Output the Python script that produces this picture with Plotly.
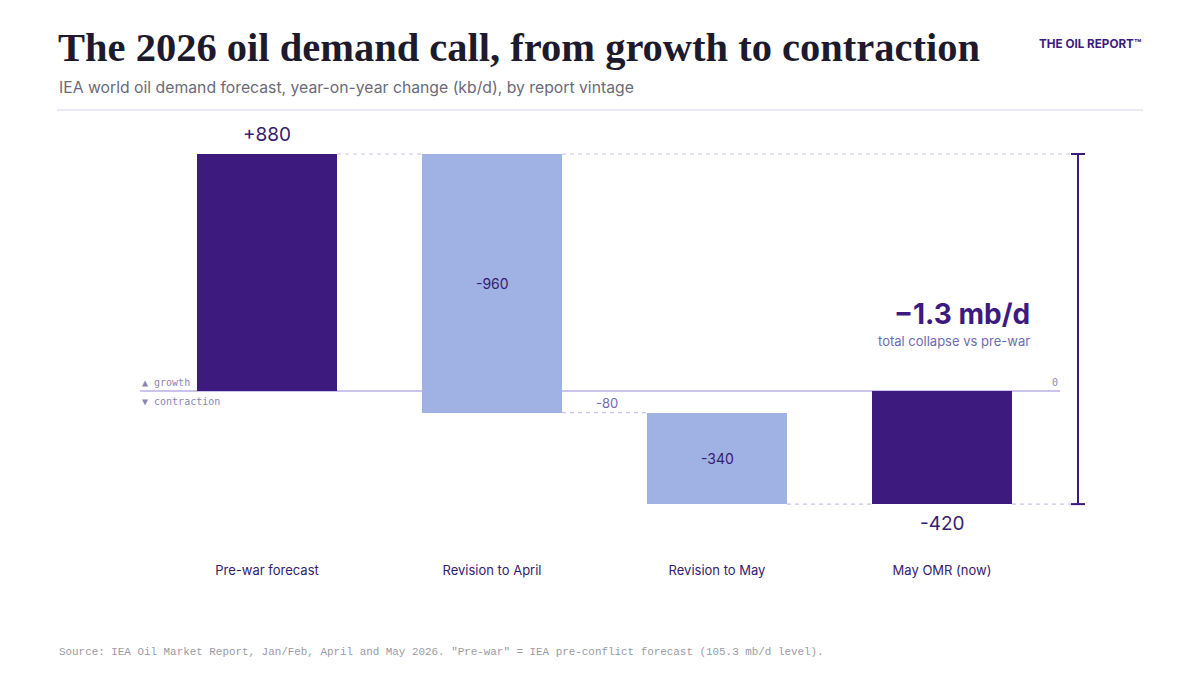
import plotly.graph_objects as go

# data
categories = ["Pre-war forecast", "Revision to April", "Revision to May", "May OMR (now)"]
changes = [880, -960, -340, -420]
kinds = ["total", "relative", "relative", "total"]

DARK = "#3d1a7e"
LIGHT = "#a0b1e3"
LINE = "#cbc4ea"
TXT = "#35206e"
SOFT = "#6c6cb2"

W, H = 1200, 675
L, R, T, B = 140, 100, 120, 130
PW, PH = W - L - R, H - T - B

# running levels for the waterfall
bases, tops = [], []
level = 0
for v, k in zip(changes, kinds):
    if k == "total":
        bases.append(0)
        level = v
    else:
        bases.append(level)
        level = level + v
    tops.append(level)

start_level = changes[0]
end_level = tops[-1]

# scale: 225 px per category, zero at y=391, 880 kb/d = 237 px
x_rng = [-127 / 225, (W - R - 267) / 225]
k = 237 / 880
y_rng = [-(H - B - 391) / k, (391 - T) / k]
bw = 0.622


def px_x(p):
    return (p - L) / PW


def px_y(p):
    return (H - B - p) / PH


def dx(p):
    return (p - 267) / 225


colors = [DARK if kd == "total" else LIGHT for kd in kinds]

fig = go.Figure(go.Bar(
    x=list(range(len(categories))), y=changes, base=bases,
    marker_color=colors, marker_line_width=0, width=bw,
    hoverinfo="none",
))

dash = "4px,4px"
shapes = []
# zero line
shapes.append(dict(type="line", xref="x", yref="y", x0=x_rng[0], x1=dx(1060), y0=0, y1=0,
                   line=dict(color=LINE, width=2), layer="below"))
# connectors between bars
for i in range(len(categories) - 1):
    shapes.append(dict(type="line", xref="x", yref="y", x0=i + bw / 2, x1=i + 1 - bw / 2,
                       y0=tops[i], y1=tops[i], line=dict(color=LINE, width=1.2, dash=dash),
                       layer="below"))
# extensions to bracket
bx = dx(1078)
for lv, xs in [(start_level, 1 + bw / 2), (end_level, 3 + bw / 2)]:
    shapes.append(dict(type="line", xref="x", yref="y", x0=xs, x1=bx, y0=lv, y1=lv,
                       line=dict(color=LINE, width=1.2, dash=dash), layer="below"))
# bracket
shapes.append(dict(type="line", xref="x", yref="y", x0=bx, x1=bx, y0=start_level, y1=end_level,
                   line=dict(color=DARK, width=2)))
for lv in [start_level, end_level]:
    shapes.append(dict(type="line", xref="x", yref="y", x0=dx(1071), x1=dx(1085), y0=lv, y1=lv,
                       line=dict(color=DARK, width=2)))
# header rule
shapes.append(dict(type="line", xref="paper", yref="paper", x0=px_x(57), x1=px_x(1143),
                   y0=px_y(110), y1=px_y(110), line=dict(color="#e4e0f2", width=1.5)))

ann = []
# value labels
ann.append(dict(x=0, y=tops[0], text=f"+{changes[0]}", yanchor="bottom", yshift=6,
                font=dict(size=19, color=TXT, family="Inter"), showarrow=False))
for i in [1, 2]:
    ann.append(dict(x=i, y=(bases[i] + tops[i]) / 2, text=f"{changes[i]}",
                    font=dict(size=14, color=TXT, family="Inter"), showarrow=False))
ann.append(dict(x=3, y=tops[3], text=f"{changes[3]}", yanchor="top", yshift=-6,
                font=dict(size=19, color=TXT, family="Inter"), showarrow=False))
ann.append(dict(x=1.51, y=tops[1], text=f"{tops[1]}", yanchor="bottom", yshift=0,
                font=dict(size=13, color=SOFT, family="Inter"), showarrow=False))
# collapse callout
ann.append(dict(x=dx(1032), y=286, xanchor="right", text=f"<b>{(end_level - start_level) / 1000:.1f} mb/d</b>".replace("-", "\u2212"),
                font=dict(size=28, color=DARK, family="Inter"), showarrow=False))
ann.append(dict(x=dx(1032), y=186, xanchor="right", text="total collapse vs pre-war",
                font=dict(size=13, color=SOFT, family="Inter"), showarrow=False))
# axis hints
ann.append(dict(xref="paper", x=0, y=0, xanchor="left", yanchor="bottom", yshift=1,
                text="\u25b2 growth", font=dict(size=10, color="#8c86b4", family="DejaVu Sans Mono"),
                showarrow=False))
ann.append(dict(xref="paper", x=0, y=0, xanchor="left", yanchor="top", yshift=-3,
                text="\u25bc contraction", font=dict(size=10, color="#8c86b4", family="DejaVu Sans Mono"),
                showarrow=False))
ann.append(dict(x=dx(1060), y=0, xanchor="right", yanchor="bottom", yshift=1,
                text="0", font=dict(size=10, color="#8c86b4", family="DejaVu Sans Mono"),
                showarrow=False))
# header
ann.append(dict(xref="paper", yref="paper", x=px_x(56), y=px_y(48), xanchor="left", yanchor="middle",
                text="<b>The 2026 oil demand call, from growth to contraction</b>",
                font=dict(size=40.5, color="#1c1a2c", family="Liberation Serif"), showarrow=False))
ann.append(dict(xref="paper", yref="paper", x=px_x(57), y=px_y(87), xanchor="left", yanchor="middle",
                text="IEA world oil demand forecast, year-on-year change (kb/d), by report vintage",
                font=dict(size=15.75, color="#6b6a78", family="Inter"), showarrow=False))
ann.append(dict(xref="paper", yref="paper", x=px_x(1143), y=px_y(44), xanchor="right", yanchor="middle",
                text="<b>THE OIL REPORT\u2122</b>",
                font=dict(size=11.7, color=DARK, family="Inter"), showarrow=False))
# footer
ann.append(dict(xref="paper", yref="paper", x=px_x(57), y=px_y(652), xanchor="left", yanchor="middle",
                text='Source: IEA Oil Market Report, Jan/Feb, April and May 2026. "Pre-war" = IEA pre-conflict forecast (105.3 mb/d level).',
                font=dict(size=10.9, color="#9a9aa4", family="Liberation Mono"), showarrow=False))

fig.update_layout(
    width=W, height=H,
    margin=dict(l=L, r=R, t=T, b=B),
    paper_bgcolor="white", plot_bgcolor="white",
    showlegend=False,
    bargap=0,
    xaxis=dict(range=x_rng, tickvals=list(range(len(categories))), ticktext=categories,
               showgrid=False, zeroline=False, showline=False, ticks="",
               tickfont=dict(size=13, color=TXT, family="Inter"), ticklabelstandoff=16),
    yaxis=dict(range=y_rng, visible=False, showgrid=False, zeroline=False),
    shapes=shapes,
    annotations=ann,
    font=dict(family="Inter"),
)

# drop the default page margin so the figure sits at the window origin
fig.write_html("out.html", config={"displayModeBar": False},
               post_script="document.body.style.margin='0';")
